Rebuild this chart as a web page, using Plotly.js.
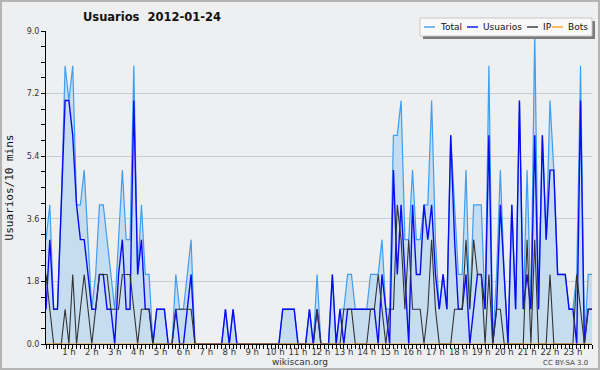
<!DOCTYPE html>
<html>
<head>
<meta charset="utf-8">
<script src="https://cdn.plot.ly/plotly-3.0.1.min.js"></script>
<style>
  html, body { margin: 0; padding: 0; background: #eeeff0; }
  #wrap { position: relative; width: 600px; height: 370px; }
  #chart { width: 600px; height: 370px; }
  #frame { position: absolute; left: 0; top: 0; width: 596px; height: 366px; border: 2px solid #b4b4b4; pointer-events: none; }
</style>
</head>
<body>
<div id="wrap"><div id="chart"></div><div id="frame"></div></div>
<script>
// 10-minute slots over the day (144 slots)
const hourTickLabels = ['1 h','2 h','3 h','4 h','5 h','6 h','7 h','8 h','9 h','10 h','11 h','12 h',
  '13 h','14 h','15 h','16 h','17 h','18 h','19 h','20 h','21 h','22 h','23 h'];
const seriesNames = ['Total', 'Usuarios', 'IP', 'Bots'];

const total = [
  3,4,1,1,4,8,7,8,4,4, 5,3,1,2,4,4,3,2,1,3, 5,3,3,8,2,4,2,2,0,1,
  1,1,0,0,2,1,1,2,3,0, 0,0,0,0,0,0,0,1,0,1, 0,0,0,0,0,0,0,0,0,0,
  0,0,1,1,1,1,0,0,0,1, 0,2,0,0,0,2,0,1,1,2, 2,1,1,1,1,2,2,2,3,1,
  1,6,6,7,3,3,5,3,3,4, 4,7,3,1,2,1,6,4,2,2, 5,1,4,4,4,1,8,0,2,5,
  2,0,4,1,7,1,5,1,9,1, 6,3,7,5,2,2,2,1,1,2, 8,0,2,2];
const usuarios = [
  1,3,1,1,4,7,7,6,4,3, 3,2,1,1,2,2,1,1,0,2, 3,1,1,7,2,3,1,1,0,1,
  1,1,0,0,1,0,0,1,2,0, 0,0,0,0,0,0,0,1,0,1, 0,0,0,0,0,0,0,0,0,0,
  0,0,1,1,1,1,0,0,0,1, 0,1,0,0,0,2,0,1,0,1, 1,1,1,1,1,1,1,0,2,1,
  0,5,2,4,2,0,4,2,2,4, 3,4,2,1,2,1,6,3,1,1, 2,0,1,2,2,1,6,0,1,4,
  2,0,4,1,7,1,2,1,6,1, 6,3,5,5,2,2,2,1,1,0, 7,0,1,1];
const ip = [
  2,1,0,0,0,1,0,2,0,1, 2,1,0,1,2,2,2,1,1,1, 2,2,2,1,0,1,1,1,0,0,
  0,0,0,0,1,1,1,1,1,0, 0,0,0,0,0,0,0,0,0,0, 0,0,0,0,0,0,0,0,0,0,
  0,0,0,0,0,0,0,0,0,0, 0,1,0,0,0,0,0,0,1,1, 1,0,0,0,0,1,1,2,1,0,
  1,1,4,3,1,3,1,1,1,0, 1,3,1,0,0,0,0,1,1,1, 3,1,3,2,2,0,2,0,1,1,
  0,0,0,0,0,0,3,0,3,0, 0,0,2,0,0,0,0,0,0,2, 1,0,1,1];
const bots = [
  0,0,0,0,0,0,0,0,0,0, 0,0,0,0,0,0,0,0,0,0, 0,0,0,0,0,0,0,0,0,0,
  0,0,0,0,0,0,0,0,0,0, 0,0,0,0,0,0,0,0,0,0, 0,0,0,0,0,0,0,0,0,0,
  0,0,0,0,0,0,0,0,0,0, 0,0,0,0,0,0,0,0,0,0, 0,0,0,0,0,0,0,0,0,0,
  0,0,0,0,0,0,0,0,0,0, 0,0,0,0,0,0,0,0,0,0, 0,0,0,0,0,0,0,0,0,0,
  0,0,0,0,0,0,0,0,0,0, 0,0,0,0,0,0,0,0,0,0, 0,0,0,0];

const slots = total.map((_, i) => i);          // slot index: i * 10 min
const hourTickVals = hourTickLabels.map((_, k) => (k + 1) * 6);

const colors = { Total: '#3d9ef2', Usuarios: '#0b0bf2', IP: '#333333', Bots: '#ffa21f' };

const traces = [
  { x: slots, y: total, name: 'Total', type: 'scatter', mode: 'lines',
    line: { color: colors.Total, width: 1.2 }, fill: 'tozeroy', fillcolor: '#c6ddf0' },
  { x: slots, y: usuarios, name: 'Usuarios', type: 'scatter', mode: 'lines',
    line: { color: colors.Usuarios, width: 1.4 } },
  { x: slots, y: ip, name: 'IP', type: 'scatter', mode: 'lines',
    line: { color: colors.IP, width: 1.1 } },
  { x: slots, y: bots, name: 'Bots', type: 'scatter', mode: 'lines',
    line: { color: colors.Bots, width: 1.1 } }
];

// plot area in pixels: x 46..592, y 31..344
const L = 46, R = 592, T = 31, B = 344;
const px = v => (v - L) / (R - L);
const py = v => (B - v) / (B - T);

const shapes = [];
const annotations = [];
// legend (custom, compact)
shapes.push({ type: 'rect', xref: 'paper', yref: 'paper', x0: px(423), x1: px(595), y0: py(39), y1: py(21),
  fillcolor: '#7a7a7a', line: { width: 0 }, layer: 'above' });
shapes.push({ type: 'rect', xref: 'paper', yref: 'paper', x0: px(420), x1: px(592), y0: py(36), y1: py(18),
  fillcolor: '#f9f9f9', line: { color: '#c8c8c8', width: 1 }, layer: 'above' });
const legendItems = [
  { name: seriesNames[0], lx: 424, tx: 438 },
  { name: seriesNames[1], lx: 467, tx: 481 },
  { name: seriesNames[2], lx: 527, tx: 541 },
  { name: seriesNames[3], lx: 552, tx: 566 }
];
legendItems.forEach(it => {
  shapes.push({ type: 'line', xref: 'paper', yref: 'paper', x0: px(it.lx), x1: px(it.lx + 11), y0: py(27), y1: py(27),
    line: { color: colors[it.name], width: 1.4 }, layer: 'above' });
  annotations.push({ xref: 'paper', yref: 'paper', x: px(it.tx), y: py(27), xanchor: 'left', yanchor: 'middle',
    text: it.name, showarrow: false, font: { family: 'DejaVu Sans', size: 9, color: '#111' } });
});
annotations.push({ xref: 'paper', yref: 'paper', x: px(300), y: py(362), xanchor: 'center', yanchor: 'middle',
  text: 'wikiscan.org', showarrow: false, font: { family: 'DejaVu Sans', size: 9, color: '#333' } });
annotations.push({ xref: 'paper', yref: 'paper', x: px(590), y: py(363), xanchor: 'right', yanchor: 'middle',
  text: 'CC BY-SA 3.0', showarrow: false, font: { family: 'DejaVu Sans', size: 7, color: '#444' } });

const layout = {
  width: 600, height: 370,
  paper_bgcolor: '#eeeff0', plot_bgcolor: '#eeeff0',
  margin: { l: L, r: 600 - R, t: T, b: 370 - B, pad: 0 },
  showlegend: false,
  title: { text: 'Usuarios  2012-01-24', x: 152 / 600, xref: 'container', xanchor: 'center',
    y: 1 - 17 / 370, yanchor: 'middle', font: { family: 'DejaVu Sans', size: 11.5, color: '#111', weight: 'bold' } },
  xaxis: {
    range: [0, 143], showgrid: false, zeroline: false,
    showline: true, linecolor: '#000', linewidth: 1,
    ticks: 'outside', ticklen: 4, tickcolor: '#000', tickwidth: 1,
    tickmode: 'array', tickvals: hourTickVals, ticktext: hourTickLabels,
    ticklabelstandoff: -4,
    tickfont: { family: 'DejaVu Sans', size: 8.5, color: '#333' },
    minor: { dtick: 1, tick0: 0, ticks: 'outside', ticklen: 4, tickcolor: '#000', showgrid: false }
  },
  yaxis: {
    range: [0, 9], dtick: 1.8, tick0: 0, tickformat: '.1f',
    showgrid: true, gridcolor: '#cccccc', gridwidth: 1, zeroline: false,
    showline: true, linecolor: '#000', linewidth: 1,
    ticks: 'outside', ticklen: 4, tickcolor: '#000',
    tickfont: { family: 'DejaVu Sans', size: 8, color: '#333' },
    minor: { dtick: 0.45, tick0: 0, ticks: 'outside', ticklen: 4, tickcolor: '#000', showgrid: false },
    title: { text: 'Usuarios/10 mins', standoff: 10, font: { family: 'DejaVu Sans Mono', size: 11, color: '#111' } }
  },
  shapes: shapes,
  annotations: annotations
};

Plotly.newPlot('chart', traces, layout, { displayModeBar: false, staticPlot: true });
</script>
</body>
</html>
